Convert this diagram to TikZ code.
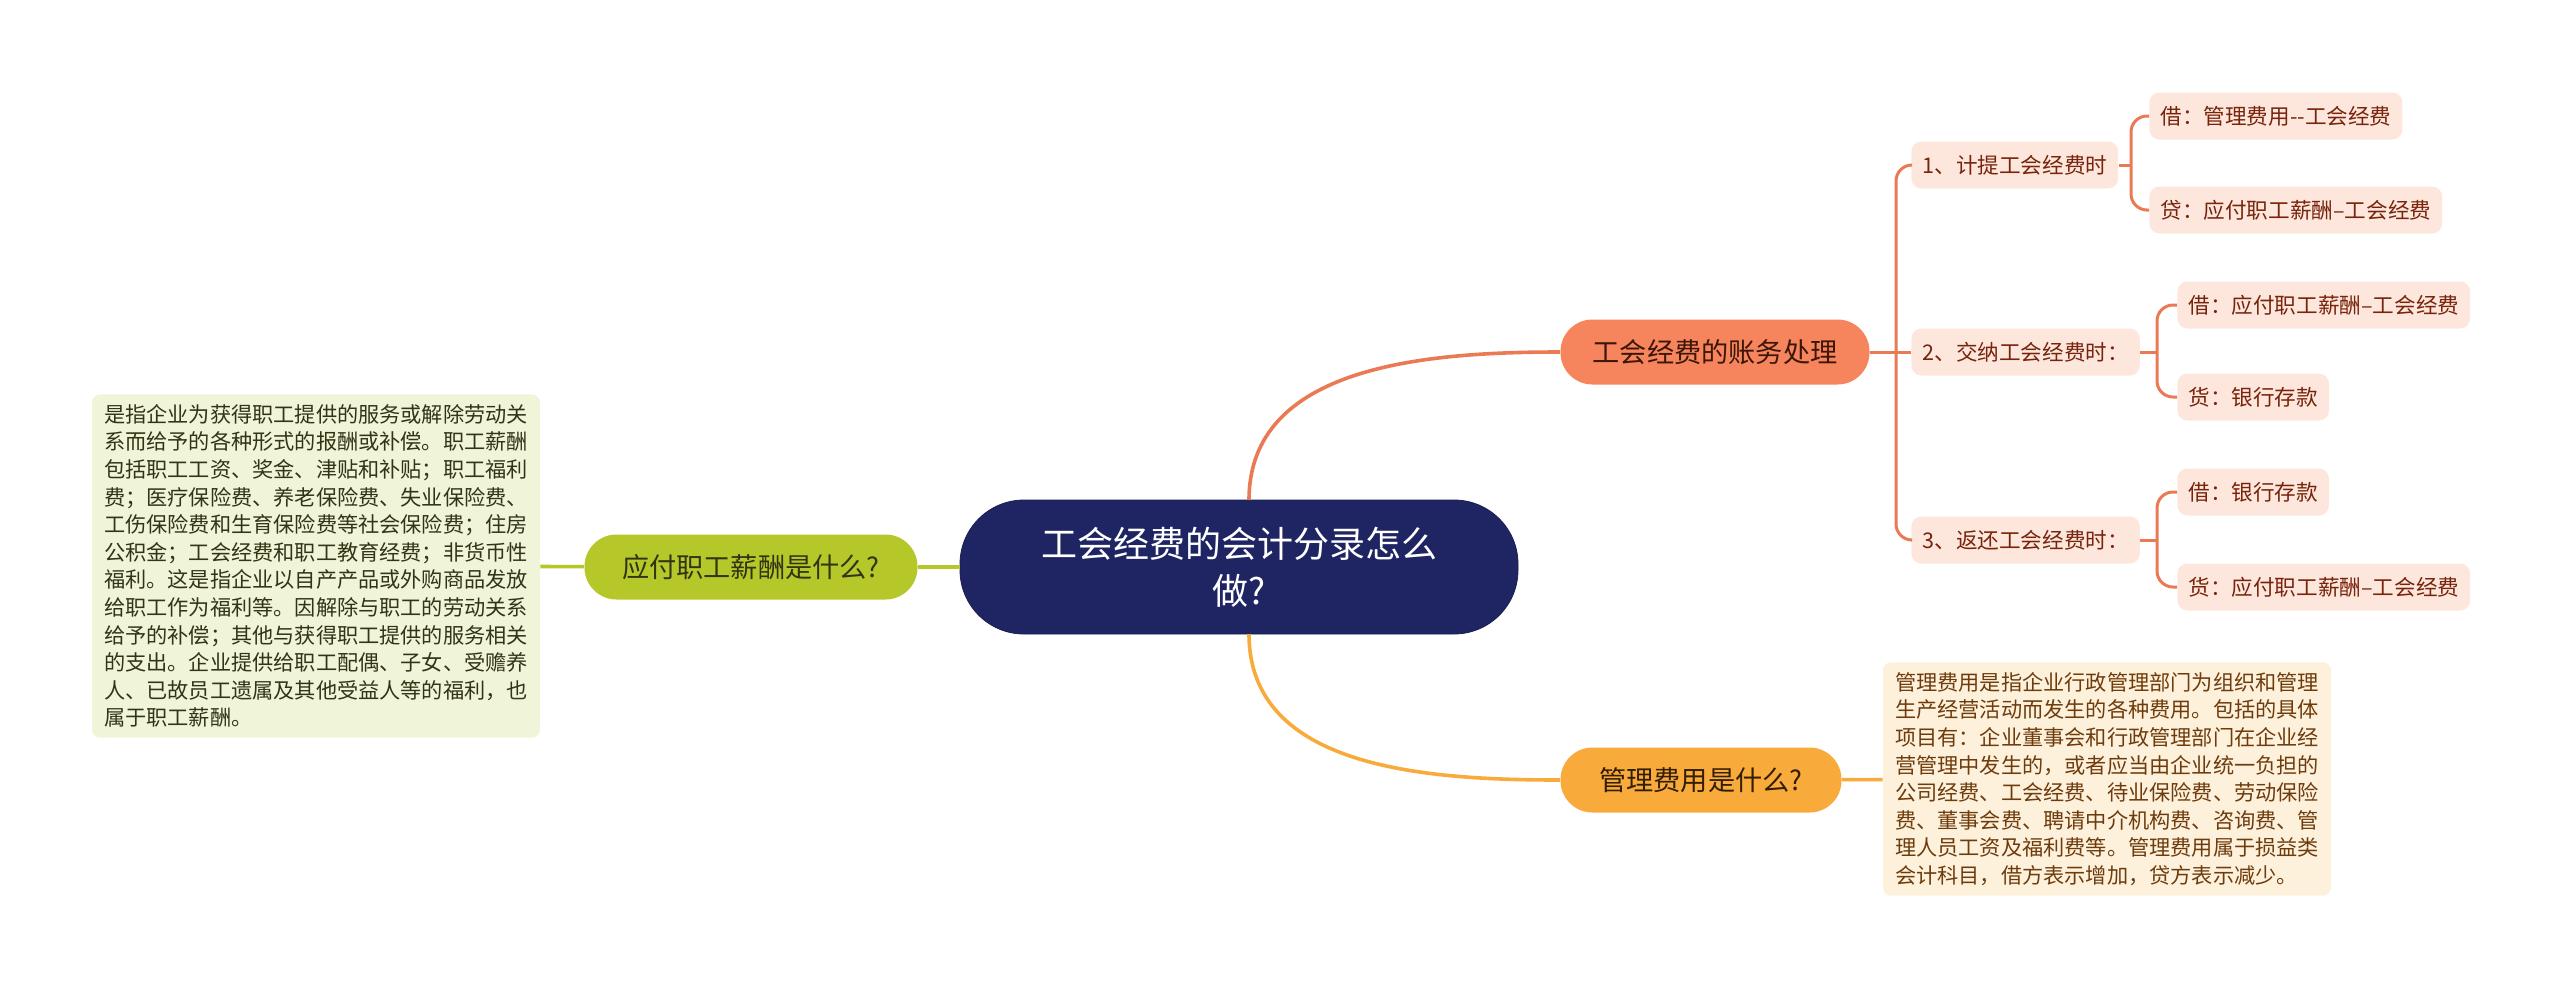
\documentclass[tikz,border=0pt]{standalone}
\usepackage{fontspec}
\setmainfont{Noto Sans CJK SC}
\usetikzlibrary{positioning}
\definecolor{navy}{RGB}{31,37,99}
\definecolor{lime}{RGB}{182,199,42}
\definecolor{limebg}{RGB}{240,244,217}
\definecolor{limetext}{RGB}{50,52,20}
\definecolor{coral}{RGB}{246,132,92}
\definecolor{coraltext}{RGB}{60,22,8}
\definecolor{coralline}{RGB}{234,122,84}
\definecolor{peach}{RGB}{253,231,221}
\definecolor{peachtext}{RGB}{120,36,12}
\definecolor{amber}{RGB}{248,170,58}
\definecolor{ambertext}{RGB}{50,30,5}
\definecolor{amberbg}{RGB}{254,241,220}
\definecolor{ambernote}{RGB}{110,60,12}
\tikzstyle{root}=[draw=navy!80!black, fill=navy, text=white, rounded corners=32pt, minimum width=279pt, minimum height=67pt, align=center, font=\fontsize{18}{23.5}\selectfont]
\tikzstyle{topic}=[rounded corners=16pt, minimum height=32.5pt, font=\fontsize{13.6}{16}\selectfont]
\tikzstyle{sub}=[fill=peach, text=peachtext, rounded corners=5pt, minimum height=23.5pt, inner xsep=5.5pt, anchor=west, font=\fontsize{10.8}{13}\selectfont]
\tikzstyle{note}=[rounded corners=4pt, align=left, inner xsep=6pt, inner ysep=5pt, font=\fontsize{10.6}{13.8}\selectfont]
\tikzstyle{mainline}=[line width=1.8pt]
\tikzstyle{subline}=[line width=1.5pt, draw=coralline, rounded corners=8pt]

\begin{document}
\begin{tikzpicture}[x=0.5pt,y=-0.5pt]
	\useasboundingbox (0,0) rectangle (2560,992);
	\node[root] (root) at (1239,567) {工会经费的会计分录怎么\\做?};
	\node[topic, fill=lime, text=limetext, minimum width=166.5pt] (salary) at (751,567) {应付职工薪酬是什么?};
	\node[note, fill=limebg, text=limetext] (salarynote) at (316,566) {是指企业为获得职工提供的服务或解除劳动关\\
		系而给予的各种形式的报酬或补偿。职工薪酬\\
		包括职工工资、奖金、津贴和补贴；职工福利\\
		费；医疗保险费、养老保险费、失业保险费、\\
		工伤保险费和生育保险费等社会保险费；住房\\
		公积金；工会经费和职工教育经费；非货币性\\
		福利。这是指企业以自产产品或外购商品发放\\
		给职工作为福利等。因解除与职工的劳动关系\\
		给予的补偿；其他与获得职工提供的服务相关\\
		的支出。企业提供给职工配偶、子女、受赡养\\
		人、已故员工遗属及其他受益人等的福利，也\\
		属于职工薪酬。};
	\node[topic, fill=coral, text=coraltext, minimum width=154.5pt] (union) at (1715,352) {工会经费的账务处理};
	\node[topic, fill=amber, text=ambertext, minimum width=140.5pt] (admin) at (1701,780) {管理费用是什么?};
	\node[note, fill=amberbg, text=ambernote] (adminnote) at (2107,779) {管理费用是指企业行政管理部门为组织和管理\\
		生产经营活动而发生的各种费用。包括的具体\\
		项目有：企业董事会和行政管理部门在企业经\\
		营管理中发生的，或者应当由企业统一负担的\\
		公司经费、工会经费、待业保险费、劳动保险\\
		费、董事会费、聘请中介机构费、咨询费、管\\
		理人员工资及福利费等。管理费用属于损益类\\
		会计科目，借方表示增加，贷方表示减少。};
	\node[sub] (accrue) at (1911,165) {1、计提工会经费时};
	\node[sub] (pay) at (1911,352) {2、交纳工会经费时：};
	\node[sub] (refund) at (1911,540) {3、返还工会经费时：};
	\node[sub] (accrueDr) at (2149,116) {借：管理费用-{}-工会经费};
	\node[sub] (accrueCr) at (2149,210) {贷：应付职工薪酬–工会经费};
	\node[sub] (payDr) at (2177,305) {借：应付职工薪酬–工会经费};
	\node[sub] (payCr) at (2177,397) {货：银行存款};
	\node[sub] (refundDr) at (2177,492) {借：银行存款};
	\node[sub] (refundCr) at (2177,587) {货：应付职工薪酬–工会经费};
	\coordinate (trunk) at (1896,352);
	\coordinate (forkA) at (2131,165);
	\coordinate (forkB) at (2157,352);
	\coordinate (forkC) at (2157,540);
	\coordinate (rootTop) at (1249,500);
	\coordinate (rootBottom) at (1249,634);
	\path[mainline, draw=lime] (root) edge (salary);
	\path[mainline, draw=lime] (salary) edge (salarynote);
	\path[mainline, draw=coralline] (rootTop) edge[out=90, in=180] (union.west);
	\path[mainline, draw=amber] (rootBottom) edge[out=-90, in=180] (admin.west);
	\path[mainline, draw=amber] (admin) edge (adminnote);
	\draw[subline] (union) -- (pay);
	\draw[subline] (accrue.west) -| (trunk) |- (refund.west);
	\draw[subline] (accrue) -- (forkA);
	\draw[subline] (accrueDr.west) -| (forkA) |- (accrueCr.west);
	\draw[subline] (pay) -- (forkB);
	\draw[subline] (payDr.west) -| (forkB) |- (payCr.west);
	\draw[subline] (refund) -- (forkC);
	\draw[subline] (refundDr.west) -| (forkC) |- (refundCr.west);
\end{tikzpicture}
\end{document}
